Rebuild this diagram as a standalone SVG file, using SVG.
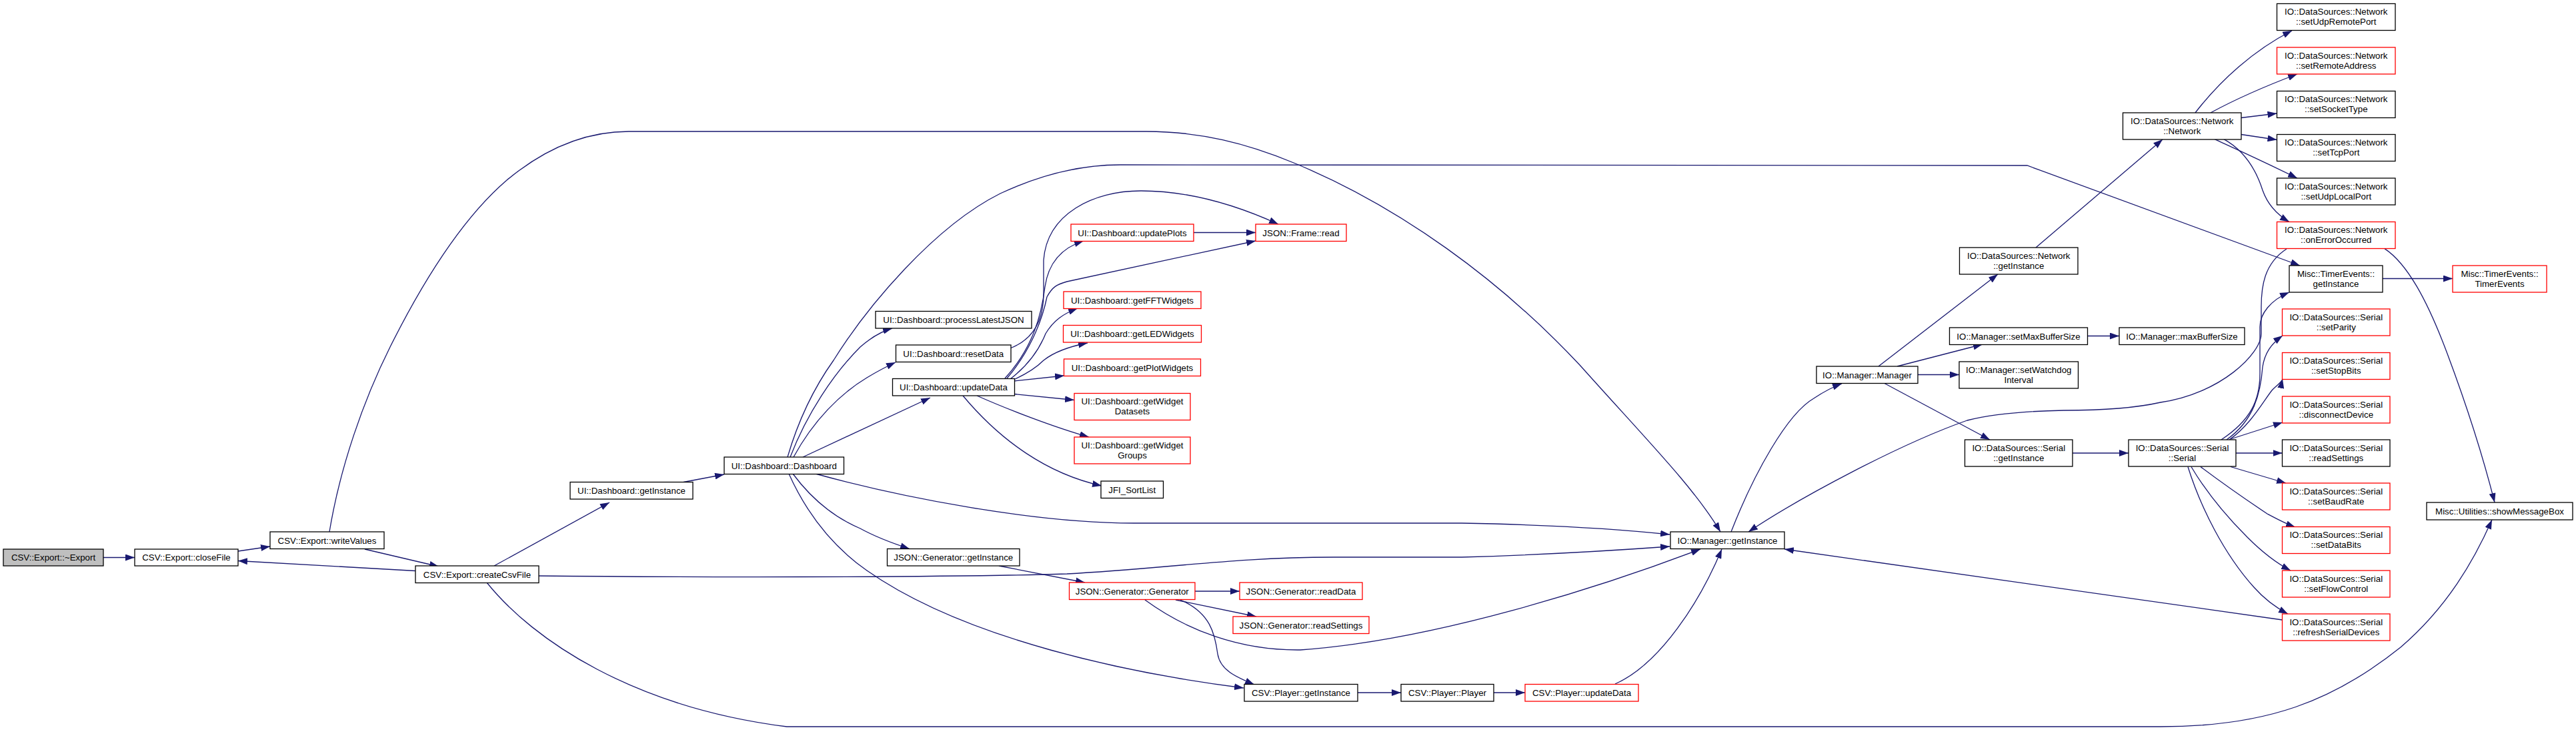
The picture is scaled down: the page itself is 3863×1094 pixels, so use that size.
<svg xmlns="http://www.w3.org/2000/svg" width="3863" height="1094" viewBox="0 0 3863 1094">
<defs>
<marker id="a" viewBox="0 0 14 10" markerWidth="14" markerHeight="10" refX="14" refY="5" orient="auto" markerUnits="userSpaceOnUse"><path d="M0,0 L14,5 L0,10 z" fill="#191970"/></marker>
<style>
rect{fill:#fff;stroke:#000;stroke-width:1.3}
rect.r{stroke:#ff0000}
rect.g{fill:#bfbfbf}
text{font-family:"Liberation Sans",Arial,sans-serif;font-size:13.3px;fill:#000;text-anchor:middle}
#edges path{fill:none;stroke:#191970;stroke-width:1.3;marker-end:url(#a)}
</style>
</defs>
<rect x="0" y="0" width="3863" height="1094" style="fill:#fff;stroke:none"/>
<g id="edges">
<path d="M155,835.5 L202,835.5"/>
<path d="M357,826 L405,819"/>
<path d="M547,823 L658,849"/>
<path d="M623,855.5 L357,840.5"/>
<path d="M494,797 C510,700 545,600 585,520 C630,430 690,330 760,270 C820,220 880,197 943,197 L1719,197 C1800,197 1870,215 1940,244 C2100,310 2250,420 2369,547 C2470,660 2540,730 2580,797"/>
<path d="M1025,722.5 L1086,711"/>
<path d="M741,848 L914,753"/>
<path d="M808,863 C1000,865 1400,866 1600,860 C1750,852 1850,835 2000,835 L2192,835 C2300,832 2420,825 2504,819"/>
<path d="M1223,710 C1350,745 1550,784 1700,784 L2192,784 C2300,786 2420,792 2504,801"/>
<path d="M1189,710 C1215,745 1250,775 1290,792 C1310,803 1335,813 1364,822.5"/>
<path d="M1183,710 C1210,770 1250,820 1300,855 C1450,960 1700,1010 1865,1031"/>
<path d="M1181,685 C1200,620 1225,575 1250,540 C1300,460 1400,340 1500,290 C1560,262 1620,247 1680,247 L3040,248 L3449,398"/>
<path d="M1185,685 C1210,620 1250,560 1290,520 C1305,507 1320,497 1338,492"/>
<path d="M1190,685 C1220,630 1260,590 1300,566 C1315,557 1330,549 1343,543"/>
<path d="M1204,685 L1395,596"/>
<path d="M1507,567 C1550,520 1562,470 1567,430 C1572,395 1590,372 1625,361"/>
<path d="M1510,567 C1550,520 1565,470 1570,445 C1578,430 1585,426 1600,422 L1883,361"/>
<path d="M1515,568 C1545,545 1560,520 1568,500 C1580,480 1595,470 1616,462"/>
<path d="M1520,569 C1540,560 1555,550 1565,540 C1580,528 1600,520 1631,514"/>
<path d="M1521,571 L1596,563"/>
<path d="M1521,590.5 L1611,599.5"/>
<path d="M1465,593 C1510,613 1580,640 1633,655"/>
<path d="M1444,593 C1500,660 1570,710 1652,728"/>
<path d="M1516,521.5 C1550,508 1565,480 1565,440 L1565,390 C1570,320 1640,286 1711,286 C1790,286 1860,310 1917,336"/>
<path d="M1790,348.5 L1883,348.5"/>
<path d="M1498,848 L1627,873"/>
<path d="M1792,886 L1859,886"/>
<path d="M1763,899 L1884,924"/>
<path d="M1770,899 C1815,918 1822,950 1826,980 C1830,1005 1855,1015 1881,1026"/>
<path d="M1717,899 C1780,945 1860,975 1950,974 C2150,960 2400,880 2550,823"/>
<path d="M2036,1038 L2101,1038"/>
<path d="M2240,1038 L2287,1038"/>
<path d="M2422,1025 C2490,995 2550,900 2582,823"/>
<path d="M2596,797 C2630,710 2680,620 2720,597 C2735,587 2748,580 2762,575"/>
<path d="M3422.5,929 L2676,823"/>
<path d="M3429,373 C3395,395 3391,430 3391,460 L3391,500 C3391,530 3330,590 3240,603 C3200,612 3150,615 3095,615 C3040,616 2990,620 2950,630 C2850,665 2700,745 2622,797"/>
<path d="M3331,659 C3375,630 3389,600 3389,560 L3389,490 C3389,470 3405,450 3433,438"/>
<path d="M3339,659 C3380,630 3390,590 3393,550 C3396,530 3405,516 3423,503"/>
<path d="M3343,659 C3375,637 3395,600 3407,585 C3413,578 3422,573 3423,568"/>
<path d="M3345,658 L3423,633"/>
<path d="M3353,679 L3422.5,679"/>
<path d="M3345,699.5 L3428,724"/>
<path d="M3300,699.5 C3330,722 3370,750 3400,770 C3415,778 3428,785 3442,790"/>
<path d="M3286,699.5 C3310,740 3340,775 3370,805 C3390,825 3410,842 3435,855"/>
<path d="M3281,699.5 C3300,760 3335,830 3380,880 C3395,897 3412,910 3431,920"/>
<path d="M3108,679 L3192,679"/>
<path d="M2826,574.5 L2984,659"/>
<path d="M2876,561.5 L2938,561.5"/>
<path d="M2845,549 L2973,516"/>
<path d="M2817,549 L2996,411"/>
<path d="M3130,503.5 L3178,503.5"/>
<path d="M3053,371 L3243,209"/>
<path d="M3292,169 C3330,120 3380,75 3437,46"/>
<path d="M3315,169 C3350,150 3400,128 3445,111"/>
<path d="M3361,176.5 L3414.5,170"/>
<path d="M3361,201.5 L3414.5,209.5"/>
<path d="M3321,208.6 C3350,222 3390,240 3445,267"/>
<path d="M3335,208.6 C3370,228 3385,260 3393,285 C3400,305 3412,320 3433,332.5"/>
<path d="M3576,372.6 C3610,395 3640,450 3670,530 C3700,610 3725,690 3741,753"/>
<path d="M3573,417.5 L3678,417.5"/>
<path d="M730,873 C800,960 950,1060 1180,1089 L3240,1089 C3400,1089 3500,1050 3600,970 C3670,910 3710,840 3737,779"/>
</g>
<g id="n1"><rect class="g" x="5" y="823" width="150" height="25"/><text x="80" y="840.2">CSV::Export::~Export</text></g>
<g id="n2"><rect x="202" y="823" width="155" height="25"/><text x="279.5" y="840.2">CSV::Export::closeFile</text></g>
<g id="n3"><rect x="405" y="797" width="171" height="25.5"/><text x="490.5" y="814.5">CSV::Export::writeValues</text></g>
<g id="n4"><rect x="623" y="848" width="185" height="25.5"/><text x="715.5" y="865.5">CSV::Export::createCsvFile</text></g>
<g id="n5"><rect x="855" y="722.5" width="184" height="25.5"/><text x="947" y="740">UI::Dashboard::getInstance</text></g>
<g id="n6"><rect x="1086" y="685" width="179.5" height="25.5"/><text x="1175.75" y="702.5">UI::Dashboard::Dashboard</text></g>
<g id="n7"><rect x="1313" y="466.5" width="234" height="25.5"/><text x="1430" y="484">UI::Dashboard::processLatestJSON</text></g>
<g id="n8"><rect x="1343.5" y="517" width="172.5" height="25.5"/><text x="1429.75" y="534.5">UI::Dashboard::resetData</text></g>
<g id="n9"><rect x="1338.5" y="567.5" width="183" height="25.5"/><text x="1430" y="585">UI::Dashboard::updateData</text></g>
<g id="n10"><rect class="r" x="1606" y="336" width="184" height="25.5"/><text x="1698" y="353.5">UI::Dashboard::updatePlots</text></g>
<g id="n11"><rect class="r" x="1883" y="336" width="136" height="25.5"/><text x="1951" y="353.5">JSON::Frame::read</text></g>
<g id="n12"><rect class="r" x="1595" y="437" width="206" height="25.5"/><text x="1698" y="454.5">UI::Dashboard::getFFTWidgets</text></g>
<g id="n13"><rect class="r" x="1594.5" y="487.5" width="207" height="25.5"/><text x="1698" y="505">UI::Dashboard::getLEDWidgets</text></g>
<g id="n14"><rect class="r" x="1595.5" y="538" width="205" height="25.5"/><text x="1698" y="555.5">UI::Dashboard::getPlotWidgets</text></g>
<g id="n15"><rect class="r" x="1611" y="589.5" width="174" height="40"/><text x="1698" y="606.1">UI::Dashboard::getWidget</text><text x="1698" y="621.1">Datasets</text></g>
<g id="n16"><rect class="r" x="1611" y="655" width="174" height="40"/><text x="1698" y="671.6">UI::Dashboard::getWidget</text><text x="1698" y="686.6">Groups</text></g>
<g id="n17"><rect x="1651" y="721" width="93.5" height="25.5"/><text x="1697.75" y="738.5">JFI_SortList</text></g>
<g id="n18"><rect x="1330.5" y="822.5" width="198.5" height="25.5"/><text x="1429.75" y="840">JSON::Generator::getInstance</text></g>
<g id="n19"><rect class="r" x="1603.5" y="873" width="188.5" height="25.5"/><text x="1697.75" y="890.5">JSON::Generator::Generator</text></g>
<g id="n20"><rect class="r" x="1859" y="873" width="184" height="25.5"/><text x="1951" y="890.5">JSON::Generator::readData</text></g>
<g id="n21"><rect class="r" x="1849" y="924" width="204" height="25.5"/><text x="1951" y="941.5">JSON::Generator::readSettings</text></g>
<g id="n22"><rect x="1866" y="1025.5" width="170" height="25.5"/><text x="1951" y="1043">CSV::Player::getInstance</text></g>
<g id="n23"><rect x="2101" y="1025.5" width="139" height="25.5"/><text x="2170.5" y="1043">CSV::Player::Player</text></g>
<g id="n24"><rect class="r" x="2287" y="1025.5" width="170" height="25.5"/><text x="2372" y="1043">CSV::Player::updateData</text></g>
<g id="n25"><rect x="2505" y="797" width="171" height="25.5"/><text x="2590.5" y="814.5">IO::Manager::getInstance</text></g>
<g id="n26"><rect x="2724" y="549" width="152" height="25.5"/><text x="2800" y="566.5">IO::Manager::Manager</text></g>
<g id="n27"><rect x="2938" y="542" width="178.5" height="40"/><text x="3027.25" y="558.6">IO::Manager::setWatchdog</text><text x="3027.25" y="573.6">Interval</text></g>
<g id="n28"><rect x="2923.5" y="491" width="207" height="25.5"/><text x="3027" y="508.5">IO::Manager::setMaxBufferSize</text></g>
<g id="n29"><rect x="3178" y="491" width="188" height="25.5"/><text x="3272" y="508.5">IO::Manager::maxBufferSize</text></g>
<g id="n30"><rect x="2938.5" y="371" width="177.5" height="40"/><text x="3027.25" y="387.6">IO::DataSources::Network</text><text x="3027.25" y="402.6">::getInstance</text></g>
<g id="n31"><rect x="2946.5" y="659" width="161.5" height="40"/><text x="3027.25" y="675.6">IO::DataSources::Serial</text><text x="3027.25" y="690.6">::getInstance</text></g>
<g id="n32"><rect x="3183.5" y="169" width="177.5" height="40"/><text x="3272.25" y="185.6">IO::DataSources::Network</text><text x="3272.25" y="200.6">::Network</text></g>
<g id="n33"><rect x="3192" y="659" width="161" height="40"/><text x="3272.5" y="675.6">IO::DataSources::Serial</text><text x="3272.5" y="690.6">::Serial</text></g>
<g id="n34"><rect x="3414.5" y="5.5" width="177.5" height="40"/><text x="3503.25" y="22.1">IO::DataSources::Network</text><text x="3503.25" y="37.1">::setUdpRemotePort</text></g>
<g id="n35"><rect class="r" x="3414.5" y="71" width="177.5" height="40"/><text x="3503.25" y="87.6">IO::DataSources::Network</text><text x="3503.25" y="102.6">::setRemoteAddress</text></g>
<g id="n36"><rect x="3414.5" y="136.5" width="177.5" height="40"/><text x="3503.25" y="153.1">IO::DataSources::Network</text><text x="3503.25" y="168.1">::setSocketType</text></g>
<g id="n37"><rect x="3414.5" y="201.5" width="177.5" height="40"/><text x="3503.25" y="218.1">IO::DataSources::Network</text><text x="3503.25" y="233.1">::setTcpPort</text></g>
<g id="n38"><rect x="3414.5" y="267" width="177.5" height="40"/><text x="3503.25" y="283.6">IO::DataSources::Network</text><text x="3503.25" y="298.6">::setUdpLocalPort</text></g>
<g id="n39"><rect class="r" x="3414.5" y="332.5" width="177.5" height="40"/><text x="3503.25" y="349.1">IO::DataSources::Network</text><text x="3503.25" y="364.1">::onErrorOccurred</text></g>
<g id="n40"><rect x="3433" y="398" width="140" height="40"/><text x="3503" y="414.6">Misc::TimerEvents::</text><text x="3503" y="429.6">getInstance</text></g>
<g id="n41"><rect class="r" x="3678" y="398" width="141" height="40"/><text x="3748.5" y="414.6">Misc::TimerEvents::</text><text x="3748.5" y="429.6">TimerEvents</text></g>
<g id="n42"><rect class="r" x="3422.5" y="463" width="161.5" height="40"/><text x="3503.25" y="479.6">IO::DataSources::Serial</text><text x="3503.25" y="494.6">::setParity</text></g>
<g id="n43"><rect class="r" x="3422.5" y="528.5" width="161.5" height="40"/><text x="3503.25" y="545.1">IO::DataSources::Serial</text><text x="3503.25" y="560.1">::setStopBits</text></g>
<g id="n44"><rect class="r" x="3422.5" y="594" width="161.5" height="40"/><text x="3503.25" y="610.6">IO::DataSources::Serial</text><text x="3503.25" y="625.6">::disconnectDevice</text></g>
<g id="n45"><rect x="3422.5" y="659" width="161.5" height="40"/><text x="3503.25" y="675.6">IO::DataSources::Serial</text><text x="3503.25" y="690.6">::readSettings</text></g>
<g id="n46"><rect class="r" x="3422.5" y="724" width="161.5" height="40"/><text x="3503.25" y="740.6">IO::DataSources::Serial</text><text x="3503.25" y="755.6">::setBaudRate</text></g>
<g id="n47"><rect class="r" x="3422.5" y="789.5" width="161.5" height="40"/><text x="3503.25" y="806.1">IO::DataSources::Serial</text><text x="3503.25" y="821.1">::setDataBits</text></g>
<g id="n48"><rect class="r" x="3422.5" y="855" width="161.5" height="40"/><text x="3503.25" y="871.6">IO::DataSources::Serial</text><text x="3503.25" y="886.6">::setFlowControl</text></g>
<g id="n49"><rect class="r" x="3422.5" y="920" width="161.5" height="40"/><text x="3503.25" y="936.6">IO::DataSources::Serial</text><text x="3503.25" y="951.6">::refreshSerialDevices</text></g>
<g id="n50"><rect x="3639" y="753" width="219" height="26"/><text x="3748.5" y="770.7">Misc::Utilities::showMessageBox</text></g>
</svg>
